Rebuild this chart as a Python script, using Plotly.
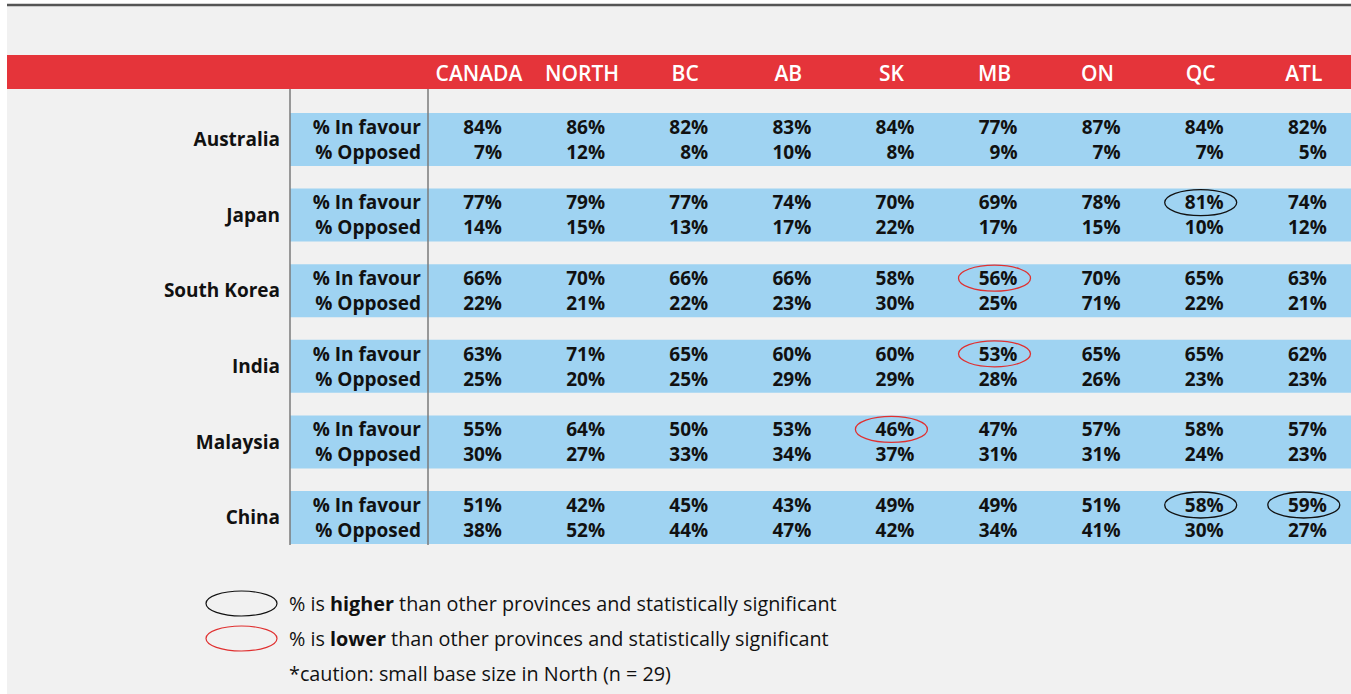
import plotly.graph_objects as go

# survey table: support for trade agreements, by region
regions = ["CANADA", "NORTH", "BC", "AB", "SK", "MB", "ON", "QC", "ATL"]
countries = ["Australia", "Japan", "South Korea", "India", "Malaysia", "China"]
row_labels = ["% In favour", "% Opposed"]

in_favour = [
    [84, 86, 82, 83, 84, 77, 87, 84, 82],
    [77, 79, 77, 74, 70, 69, 78, 81, 74],
    [66, 70, 66, 66, 58, 56, 70, 65, 63],
    [63, 71, 65, 60, 60, 53, 65, 65, 62],
    [55, 64, 50, 53, 46, 47, 57, 58, 57],
    [51, 42, 45, 43, 49, 49, 51, 58, 59],
]
opposed = [
    [7, 12, 8, 10, 8, 9, 7, 7, 5],
    [14, 15, 13, 17, 22, 17, 15, 10, 12],
    [22, 21, 22, 23, 30, 25, 71, 22, 21],
    [25, 20, 25, 29, 29, 28, 26, 23, 23],
    [30, 27, 33, 34, 37, 31, 31, 24, 23],
    [38, 52, 44, 47, 42, 34, 41, 30, 27],
]

# significant "in favour" cells
higher = [("Japan", "QC"), ("China", "QC"), ("China", "ATL")]
lower = [("South Korea", "MB"), ("India", "MB"), ("Malaysia", "SK")]

legend_lines = [
    "% is <b>higher</b> than other provinces and statistically significant",
    "% is <b>lower</b> than other provinces and statistically significant",
    "*caution: small base size in North (n = 29)",
]

W, H = 1351, 694
FONT = "Open Sans"
RED = "#e5343a"
BLUE = "#9fd3f2"
BG = "#f1f1f1"

# layout helpers (pixel space)
col0, col_step = 479, 103.1
row0, row_step, line_gap = 127, 75.6, 25
text_dy = 2  # small baseline nudge for the font


def col_x(i):
    return col0 + i * col_step


def fav_y(k):
    return row0 + k * row_step


fig = go.Figure()

shapes = [
    dict(type="rect", x0=7, x1=W, y0=6, y1=H, fillcolor=BG, line_width=0, layer="below"),
    dict(type="line", x0=7, x1=W, y0=5, y1=5, line=dict(color="#555555", width=2.5)),
    dict(type="rect", x0=7, x1=W, y0=55, y1=89, fillcolor=RED, line_width=0, layer="below"),
]
for k in range(len(countries)):
    shapes.append(dict(type="rect", x0=290, x1=W, y0=fav_y(k) - 14, y1=fav_y(k) + line_gap + 14,
                       fillcolor=BLUE, line_width=0, layer="below"))
for xv in (290, 428):
    shapes.append(dict(type="line", x0=xv, x1=xv, y0=89, y1=fav_y(5) + line_gap + 15,
                       line=dict(color="#7a7a7a", width=1.5)))

for cells, color in ((higher, "#111111"), (lower, "#e03030")):
    for c, r in cells:
        cx = col_x(regions.index(r))
        cy = fav_y(countries.index(c))
        shapes.append(dict(type="circle", x0=cx - 36, x1=cx + 36, y0=cy - 13, y1=cy + 13,
                           line=dict(color=color, width=1.3)))

# legend ellipses
for j, color in enumerate(("#111111", "#e03030")):
    cy = 603.5 + j * 35
    shapes.append(dict(type="circle", x0=206, x1=277, y0=cy - 12.5, y1=cy + 12.5,
                       line=dict(color=color, width=1.2)))

bold = dict(family=FONT, size=19, color="#111111", weight=700)

# header
fig.add_trace(go.Scatter(
    x=[col_x(i) for i in range(len(regions))], y=[74 + text_dy] * len(regions),
    text=regions, mode="text", textposition="middle center",
    textfont=dict(family=FONT, size=21, color="white", weight=600),
    hoverinfo="skip", cliponaxis=False))

# country names
fig.add_trace(go.Scatter(
    x=[280] * len(countries), y=[fav_y(k) + line_gap / 2 + text_dy for k in range(len(countries))],
    text=countries, mode="text", textposition="middle left",
    textfont=bold, hoverinfo="skip", cliponaxis=False))

# row labels
lx, ly, lt = [], [], []
for k in range(len(countries)):
    for j, lab in enumerate(row_labels):
        lx.append(421)
        ly.append(fav_y(k) + j * line_gap + text_dy)
        lt.append(lab)
fig.add_trace(go.Scatter(
    x=lx, y=ly, text=lt, mode="text", textposition="middle left",
    textfont=bold, hoverinfo="skip", cliponaxis=False))

# values
vx, vy, vt = [], [], []
for k in range(len(countries)):
    for i in range(len(regions)):
        for j, series in enumerate((in_favour, opposed)):
            vx.append(col_x(i) + 23)
            vy.append(fav_y(k) + j * line_gap + text_dy)
            vt.append(f"{series[k][i]}%")
fig.add_trace(go.Scatter(
    x=vx, y=vy, text=vt, mode="text", textposition="middle left",
    textfont=bold, hoverinfo="skip", cliponaxis=False))

annotations = []
for j, txt in enumerate(legend_lines):
    annotations.append(dict(x=287, y=603 + j * 35, text=txt, showarrow=False,
                            xanchor="left", yanchor="middle",
                            font=dict(family=FONT, size=19.8, color="#111111")))

fig.update_layout(
    width=W, height=H, margin=dict(l=0, r=0, t=0, b=0),
    paper_bgcolor="white", plot_bgcolor="white",
    xaxis=dict(range=[0, W], visible=False, fixedrange=True),
    yaxis=dict(range=[H, 0], visible=False, fixedrange=True),
    showlegend=False, shapes=shapes, annotations=annotations,
)

fig.write_html("out.html", config={"displayModeBar": False},
               post_script="document.body.style.margin='0';")
